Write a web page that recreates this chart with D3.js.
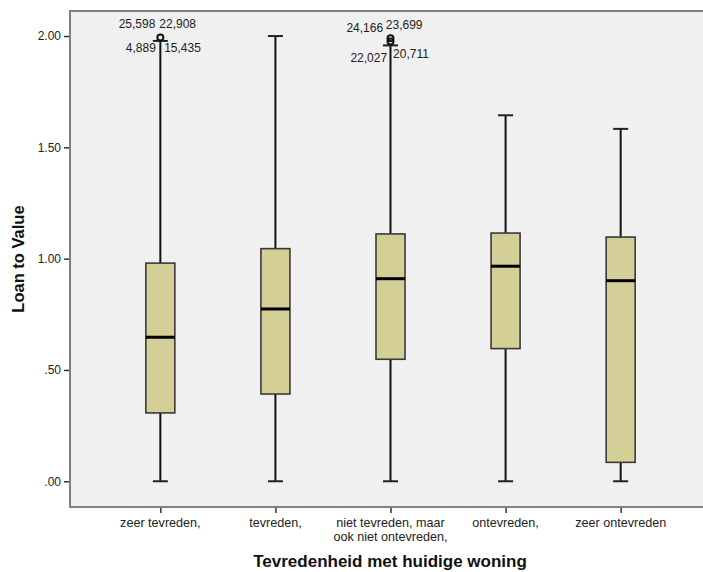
<!DOCTYPE html>
<html>
<head>
<meta charset="utf-8">
<script src="https://cdn.jsdelivr.net/npm/d3@7"></script>
<style>
  html, body { margin: 0; padding: 0; background: #ffffff; }
  svg { display: block; font-family: "Liberation Sans", Arial, sans-serif; }
</style>
</head>
<body>
<svg id="chart" width="703" height="572"></svg>
<script>
// ---- data ----
const categories = [
  ["zeer tevreden,"],
  ["tevreden,"],
  ["niet tevreden, maar", "ook niet ontevreden,"],
  ["ontevreden,"],
  ["zeer ontevreden"]
];
const whiskerLow  = [0.000, 0.000, 0.000, 0.000, 0.000];
const q1          = [0.307, 0.392, 0.548, 0.596, 0.085];
const median      = [0.647, 0.774, 0.910, 0.966, 0.901];
const q3          = [0.980, 1.045, 1.111, 1.115, 1.097];
const whiskerHigh = [1.978, 2.000, 1.958, 1.644, 1.583];
// outliers: category index, value, case label
const outlierCat   = [0, 0, 0, 0, 2, 2, 2, 2];
const outlierValue = [1.994, 1.994, 1.994, 1.994, 1.990, 1.990, 1.975, 1.975];
const outlierLabel = ["25,598", "22,908", "4,889", "15,435", "24,166", "23,699", "22,027", "20,711"];
const yTicks = [0, 0.5, 1.0, 1.5, 2.0];
const yTickLabels = [".00", ".50", "1.00", "1.50", "2.00"];
const yTitle = "Loan to Value";
const xTitle = "Tevredenheid met huidige woning";

(function () {
// ---- layout ----
const svg = d3.select("#chart");
const pLeft = 70, pTop = 11, pBottom = 507, pRight = 711;
const y = d3.scaleLinear().domain([-0.1156, 2.1125]).range([pBottom, pTop]);
const x = d3.scalePoint().domain(d3.range(categories.length)).range([pLeft, pRight]).padding(0.785);
const boxW = 29, capW = 15;

// plot background
svg.append("rect").attr("x", pLeft).attr("y", pTop).attr("width", pRight - pLeft).attr("height", pBottom - pTop)
  .attr("fill", "#f0f0f0");

// frame top line (right edge cropped)
svg.append("line").attr("x1", pLeft).attr("x2", pRight).attr("y1", pTop).attr("y2", pTop)
  .attr("stroke", "#808080").attr("stroke-width", 2);

// axes
const yAxis = d3.axisLeft(y).tickValues(yTicks)
  .tickFormat((d, i) => yTickLabels[i]).tickSize(6).tickSizeOuter(0).tickPadding(3);
const gy = svg.append("g").attr("transform", `translate(${pLeft},0)`).call(yAxis);
gy.select(".domain").remove();
gy.selectAll(".tick line").attr("stroke", "#333").attr("stroke-width", 1.5);
gy.selectAll(".tick text").attr("font-size", 12).attr("fill", "#222")
  .attr("font-family", "Liberation Sans, Arial, sans-serif");
svg.append("line").attr("x1", pLeft).attr("x2", pLeft).attr("y1", pTop - 1).attr("y2", pBottom + 1)
  .attr("stroke", "#808080").attr("stroke-width", 2);

const xAxis = d3.axisBottom(x).tickSize(6).tickSizeOuter(0).tickFormat("");
const gx = svg.append("g").attr("transform", `translate(0,${pBottom})`).call(xAxis);
gx.select(".domain").remove();
gx.selectAll(".tick line").attr("stroke", "#333").attr("stroke-width", 1.5);
svg.append("line").attr("x1", pLeft - 1).attr("x2", pRight).attr("y1", pBottom).attr("y2", pBottom)
  .attr("stroke", "#808080").attr("stroke-width", 2);

// category labels
const catG = svg.append("g");
categories.forEach((lines, i) => {
  const t = catG.append("text").attr("x", x(i)).attr("y", 527)
    .attr("text-anchor", "middle").attr("font-size", 12.6).attr("fill", "#222");
  lines.forEach((ln, j) => {
    t.append("tspan").attr("x", x(i)).attr("dy", j === 0 ? 0 : 13.5).text(ln);
  });
});

// boxes
const g = svg.append("g");
categories.forEach((c, i) => {
  const cx = x(i);
  g.append("line").attr("x1", cx).attr("x2", cx).attr("y1", y(whiskerHigh[i])).attr("y2", y(q3[i]))
    .attr("stroke", "#111").attr("stroke-width", 2);
  g.append("line").attr("x1", cx).attr("x2", cx).attr("y1", y(q1[i])).attr("y2", y(whiskerLow[i]))
    .attr("stroke", "#111").attr("stroke-width", 2);
  [whiskerHigh[i], whiskerLow[i]].forEach(v => {
    g.append("line").attr("x1", cx - capW / 2).attr("x2", cx + capW / 2).attr("y1", y(v)).attr("y2", y(v))
      .attr("stroke", "#222").attr("stroke-width", 2);
  });
  g.append("rect").attr("x", cx - boxW / 2).attr("y", y(q3[i]))
    .attr("width", boxW).attr("height", y(q1[i]) - y(q3[i]))
    .attr("fill", "#d3cf97").attr("stroke", "#3a3a3a").attr("stroke-width", 1.6);
  g.append("line").attr("x1", cx - boxW / 2).attr("x2", cx + boxW / 2)
    .attr("y1", y(median[i])).attr("y2", y(median[i]))
    .attr("stroke", "#000").attr("stroke-width", 3);
});

// outliers
const outG = svg.append("g");
const drawn = new Set();
outlierValue.forEach((v, k) => {
  const key = outlierCat[k] + ":" + v;
  if (drawn.has(key)) return;
  drawn.add(key);
  outG.append("circle").attr("cx", x(outlierCat[k])).attr("cy", y(v)).attr("r", 3)
    .attr("fill", "none").attr("stroke", "#111").attr("stroke-width", 2);
});
// label placement pattern around the outlier point: [dx, dy, anchor]
const labelPattern = {
  0: [[-5, -9, "end"], [-1, -9.5, "start"], [-4.5, 14.5, "end"], [3.8, 14.5, "start"]],
  2: [[-7.4, -6, "end"], [-4.7, -9.3, "start"], [-3.4, 20.6, "end"], [2.6, 16.6, "start"]]
};
const counters = {};
outlierValue.forEach((v, k) => {
  const c = outlierCat[k];
  counters[c] = (counters[c] || 0);
  const p = labelPattern[c][counters[c]++];
  outG.append("text").attr("x", x(c) + p[0]).attr("y", y(v) + p[1])
    .attr("text-anchor", p[2]).attr("font-size", 12).attr("fill", "#222")
    .text(outlierLabel[k]);
});

// titles
svg.append("text").attr("transform", `translate(24,${(pTop + pBottom) / 2}) rotate(-90)`)
  .attr("text-anchor", "middle").attr("font-size", 16.5).attr("font-weight", "bold").attr("fill", "#111")
  .text(yTitle);
svg.append("text").attr("x", 390).attr("y", 567)
  .attr("text-anchor", "middle").attr("font-size", 17).attr("font-weight", "bold").attr("fill", "#111")
  .text(xTitle);
})();
</script>
</body>
</html>
